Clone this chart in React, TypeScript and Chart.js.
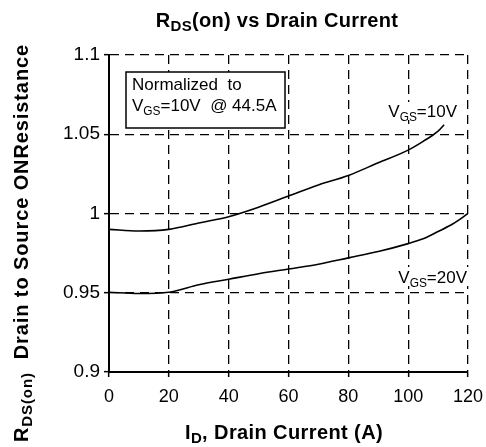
import React, { useEffect, useRef } from 'react';
import { Chart, registerables } from 'chart.js';

Chart.register(...registerables);

const FONT = '"Liberation Sans", Arial, sans-serif';

// Axis ticks
const xTickValues = [0, 20, 40, 60, 80, 100, 120];
const xTickLabels = ['0', '20', '40', '60', '80', '100', '120'];
const yTickValues = [0.9, 0.95, 1, 1.05, 1.1];
const yTickLabels = ['0.9', '0.95', '1', '1.05', '1.1'];

// VGS = 10V curve
const id10 = [0, 10, 20, 30, 40, 50, 60, 70, 80, 90, 100, 105, 110, 112];
const r10 = [0.990, 0.989, 0.990, 0.994, 0.998, 1.004, 1.011, 1.018, 1.024, 1.032, 1.040, 1.0455, 1.052, 1.056];

// VGS = 20V curve
const id20 = [0, 10, 20, 30, 40, 50, 60, 70, 80, 90, 100, 105, 110, 115, 120];
const r20 = [0.9503, 0.9495, 0.9503, 0.955, 0.9585, 0.962, 0.965, 0.968, 0.972, 0.976, 0.981, 0.984, 0.9886, 0.9935, 1.0];

type Part = [string, boolean?];

function drawRich(
  ctx: CanvasRenderingContext2D,
  parts: Part[],
  x: number,
  y: number,
  size: number,
  weight: string,
  align: 'left' | 'center' | 'right',
  spacing = 0,
  subScale = 0.7
) {
  ctx.save();
  ctx.textBaseline = 'alphabetic';
  ctx.textAlign = 'left';
  ctx.fillStyle = '#000';
  (ctx as any).letterSpacing = spacing + 'px';
  const sizes = parts.map((p) => (p[1] ? size * subScale : size));
  const widths = parts.map((p, i) => {
    ctx.font = `${weight} ${sizes[i]}px ${FONT}`;
    return ctx.measureText(p[0]).width;
  });
  const total = widths.reduce((a, b) => a + b, 0);
  let cx = align === 'center' ? x - total / 2 : align === 'right' ? x - total : x;
  parts.forEach((p, i) => {
    ctx.font = `${weight} ${sizes[i]}px ${FONT}`;
    ctx.fillText(p[0], cx, y + (p[1] ? size * 0.22 : 0));
    cx += widths[i];
  });
  ctx.restore();
  return total;
}

const textPlugin = {
  id: 'textPlugin',
  beforeDatasetsDraw(chart: any) {
    const ctx: CanvasRenderingContext2D = chart.ctx;
    // Normalized box
    ctx.save();
    ctx.fillStyle = '#fff';
    ctx.fillRect(126, 72, 159, 56);
    ctx.strokeStyle = '#000';
    ctx.lineWidth = 1.5;
    ctx.strokeRect(126, 72, 159, 56);
    ctx.restore();
    drawRich(ctx, [['Normalized  to']], 132, 89.5, 17, 'normal', 'left');
    drawRich(ctx, [['V'], ['GS', true], ['=10V  @ 44.5A']], 132, 111, 17, 'normal', 'left');

    // Curve labels with white background
    ctx.save();
    ctx.fillStyle = '#fff';
    ctx.fillRect(384, 102, 76, 18);
    ctx.fillRect(394, 267, 76, 19);
    ctx.restore();
    drawRich(ctx, [['V'], ['GS', true], ['=10V']], 457, 117, 17, 'normal', 'right');
    drawRich(ctx, [['V'], ['GS', true], ['=20V']], 467, 283, 17, 'normal', 'right');
  },
  afterDraw(chart: any) {
    const ctx: CanvasRenderingContext2D = chart.ctx;
    // Title
    drawRich(ctx, [['R'], ['DS', true], ['(on) vs Drain Current']], 277, 27, 20, 'bold', 'center', 0.3, 0.75);
    // X title
    drawRich(ctx, [['I'], ['D', true], [', Drain Current (A)']], 284, 439, 20, 'bold', 'center', 0.4, 0.75);
    // Y title
    ctx.save();
    ctx.translate(28, 243);
    ctx.rotate(-Math.PI / 2);
    drawRich(ctx, [['R'], ['DS(on)', true], ['  Drain to Source ONResistance']], 0, 0, 20, 'bold', 'center', 0.9, 0.75);
    ctx.restore();
  },
};

export default function App() {
  const ref = useRef<HTMLCanvasElement | null>(null);

  useEffect(() => {
    document.body.style.margin = '0';
    const canvas = ref.current;
    if (!canvas) return;
    const gridCommon = {
      color: '#000',
      lineWidth: 1.3,
      drawTicks: true,
      tickLength: 5,
      tickWidth: 1.5,
      tickColor: '#000',
      tickBorderDash: [],
    };
    const chart = new Chart(canvas, {
      type: 'line',
      data: {
        datasets: [
          {
            label: 'VGS=10V',
            data: id10.map((x, i) => ({ x, y: r10[i] })),
            borderColor: '#000',
            borderWidth: 1.6,
            pointRadius: 0,
            cubicInterpolationMode: 'monotone',
            fill: false,
          },
          {
            label: 'VGS=20V',
            data: id20.map((x, i) => ({ x, y: r20[i] })),
            borderColor: '#000',
            borderWidth: 1.6,
            pointRadius: 0,
            cubicInterpolationMode: 'monotone',
            fill: false,
          },
        ],
      },
      options: {
        animation: false,
        responsive: false,
        devicePixelRatio: 1,
        layout: { padding: { top: 55, right: 18, left: 0, bottom: 0 } },
        plugins: {
          legend: { display: false },
          title: { display: false },
          tooltip: { enabled: false },
        },
        scales: {
          x: {
            type: 'linear',
            min: 0,
            max: 120,
            afterBuildTicks: (scale: any) => {
              scale.ticks = xTickValues.map((v) => ({ value: v }));
            },
            afterFit: (scale: any) => {
              scale.height = 75;
              scale.paddingLeft = 0;
              scale.paddingRight = 0;
            },
            ticks: {
              autoSkip: false,
              maxRotation: 0,
              padding: 9,
              color: '#000',
              font: { family: FONT, size: 18 },
              callback: (_v: any, i: number) => xTickLabels[i],
            },
            grid: gridCommon,
            border: { display: true, color: '#000', width: 2, dash: [9, 6] },
          },
          y: {
            type: 'linear',
            min: 0.9,
            max: 1.1,
            afterBuildTicks: (scale: any) => {
              scale.ticks = yTickValues.map((v) => ({ value: v }));
            },
            afterFit: (scale: any) => {
              scale.width = 109;
              scale.paddingTop = 0;
              scale.paddingBottom = 0;
            },
            ticks: {
              autoSkip: false,
              padding: 4,
              color: '#000',
              font: { family: FONT, size: 19 },
              callback: (_v: any, i: number) => yTickLabels[i],
            },
            grid: gridCommon,
            border: { display: true, color: '#000', width: 2, dash: [9, 6] },
          },
        },
      } as any,
      plugins: [textPlugin],
    });
    return () => chart.destroy();
  }, []);

  return (
    <div style={{ position: 'absolute', left: 0, top: 0, width: 486, height: 447, background: '#fff' }}>
      <canvas ref={ref} width={486} height={447} style={{ width: 486, height: 447, display: 'block' }} />
    </div>
  );
}
